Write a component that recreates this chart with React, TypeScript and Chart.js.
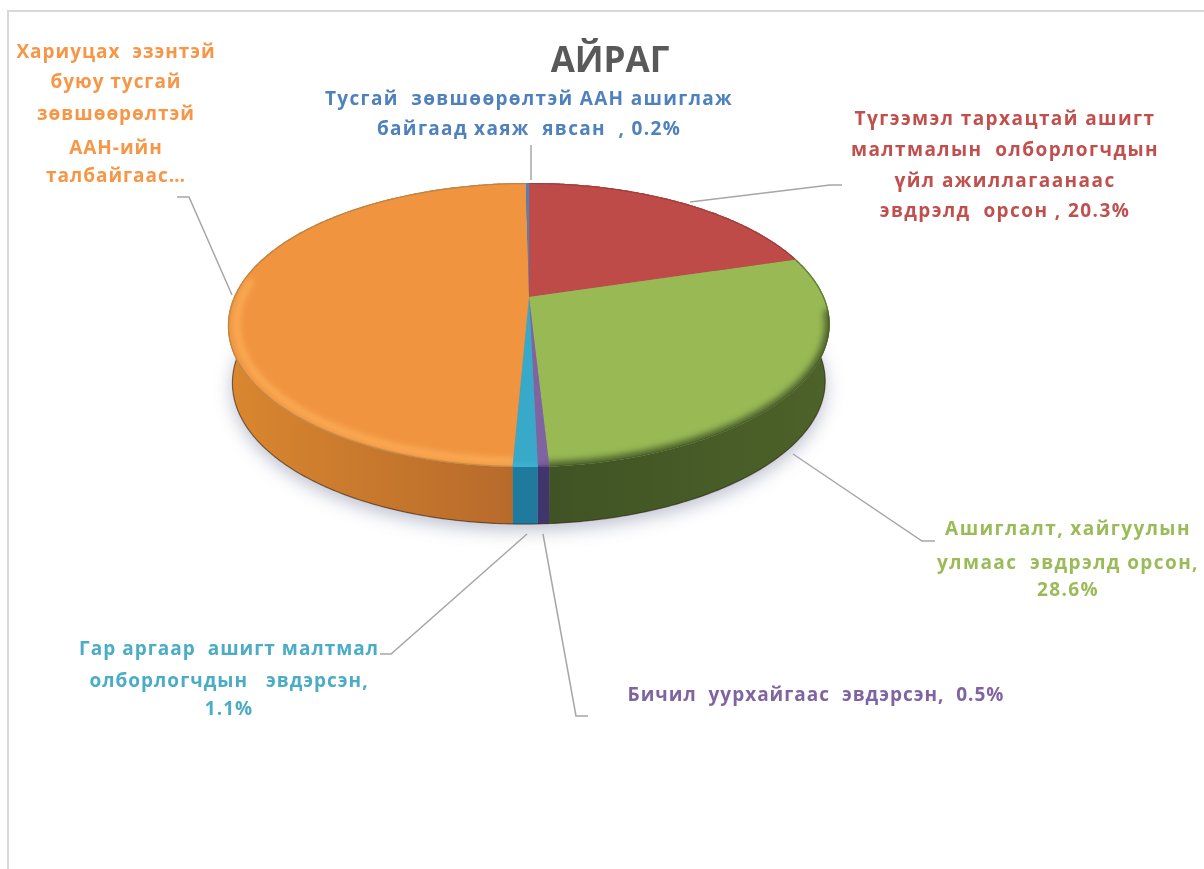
import React, { useEffect, useRef } from "react";
import { Chart, registerables } from "chart.js";

Chart.register(...registerables);

const titleText = "АЙРАГ";
const categories = [
  "Түгээмэл тархацтай ашигт малтмалын олборлогчдын үйл ажиллагаанаас эвдрэлд орсон",
  "Ашиглалт, хайгуулын улмаас эвдрэлд орсон",
  "Бичил уурхайгаас эвдэрсэн",
  "Гар аргаар ашигт малтмал олборлогчдын эвдэрсэн",
  "Хариуцах эзэнтэй буюу тусгай зөвшөөрөлтэй ААН-ийн талбайгаас…",
  "Тусгай зөвшөөрөлтэй ААН ашиглаж байгаад хаяж явсан",
];
const seriesValues = [20.3, 28.6, 0.5, 1.1, 49.3, 0.2];
const sliceColors = ["#BE4B48", "#98B954", "#8064A2", "#38A9C9", "#F19440", "#4F81BD"];
const labelColors = ["#C0504D", "#9BBB59", "#8064A2", "#4BACC6", "#F79646", "#4F81BD"];
const labelLines = [
  ["Түгээмэл тархацтай ашигт", "малтмалын  олборлогчдын", "үйл ажиллагаанаас", "эвдрэлд  орсон , 20.3%"],
  ["Ашиглалт, хайгуулын", "улмаас  эвдрэлд орсон,", "28.6%"],
  ["Бичил  уурхайгаас  эвдэрсэн,  0.5%"],
  ["Гар аргаар  ашигт малтмал", "олборлогчдын   эвдэрсэн,", "1.1%"],
  ["Хариуцах  эзэнтэй", "буюу тусгай", "зөвшөөрөлтэй", "ААН-ийн", "талбайгаас…"],
  ["Тусгай  зөвшөөрөлтэй ААН ашиглаж", "байгаад хаяж  явсан  , 0.2%"],
];

// layout of the text and leader lines
const labelCenterX = [1005, 1068, 816, 229, 116, 529];
const labelBaselines = [[125, 156, 187, 217], [535, 569, 596], [701], [655, 687, 715], [58, 88, 120, 154, 182], [105, 135]];
const labelFitWidth = [308, 262, 377, 300, 199, 408];
const leaders = [
  [[690, 202], [830, 185], [842, 185]],
  [[793, 454], [922, 541], [935, 541]],
  [[543, 534], [576, 716], [588, 716]],
  [[527, 534], [391, 654], [380, 654]],
  [[177, 197], [189, 197], [232, 295]],
  [[531, 145], [531, 180]],
];
const sideStops = [
  ["#8a3532", "#8a3532"],
  ["#3f5224", "#4c6229"],
  ["#41356e", "#41356e"],
  ["#1f7a9e", "#1f7a9e"],
  ["#d9862f", "#b5692b"],
  ["#3a5f8e", "#3a5f8e"],
];
const backEdgeColors = ["#a03f3c", "#5f7a35", "#5a4580", "#38A9C9", "#b98445", "#4F81BD"];
const frontRimColors = ["#93403c", "#46592a", "#5a4580", "#46c0dc", "#ffb65e", "#4F81BD"];

const TILT = 0.197;
const SQUASH = 0.463;
const DEPTH = 57;
const NARROW = 0.985;
const SHEAR = 5;
const FONT = '"Open Sans"';

const piePlugin = {
  id: "perspectivePie",
  beforeDraw(chart: any) {
    const c = chart.ctx;
    c.save();
    c.fillStyle = "#ffffff";
    c.fillRect(0, 0, chart.width, chart.height);
    c.strokeStyle = "#d9d9d9";
    c.lineWidth = 2;
    c.beginPath();
    c.moveTo(8, chart.height);
    c.lineTo(8, 11);
    c.lineTo(chart.width, 11);
    c.stroke();
    c.restore();
  },
  beforeDatasetsDraw(chart: any) {
    const c = chart.ctx;
    const arcs = chart.getDatasetMeta(0).data;
    const first = arcs[0];
    const R = first.outerRadius;
    const cx = first.x;
    const cy = first.y;
    const B = R * SQUASH;
    const pt = (a: number, r = 1, d = 0) => {
      const u = Math.cos(a) * r;
      const v = Math.sin(a) * r;
      const w = 1 - TILT * v;
      const n = 1 - (1 - NARROW) * (d / DEPTH);
      const s = v > 0 ? SHEAR * v * v : 0;
      return [cx + (R * u * n) / w - s, cy + (B * v) / w + d];
    };
    const arcPath = (s: number, e: number, r = 1, d = 0, cont = false) => {
      const n = Math.max(4, Math.ceil(Math.abs(e - s) / 0.01));
      for (let i = 0; i <= n; i++) {
        const p = pt(s + ((e - s) * i) / n, r, d);
        if (i === 0 && !cont) c.moveTo(p[0], p[1]);
        else c.lineTo(p[0], p[1]);
      }
    };
    const wedge = (a: any) => {
      c.beginPath();
      c.moveTo(cx, cy);
      arcPath(a.startAngle, a.endAngle, 1, 0, true);
      c.closePath();
    };

    // soft shadow under the disc
    c.save();
    c.shadowColor = "rgba(95,105,140,0.42)";
    c.shadowBlur = 18;
    c.shadowOffsetY = 6;
    c.fillStyle = "#888888";
    c.beginPath();
    arcPath(0, Math.PI * 2, 1, DEPTH);
    c.closePath();
    c.fill();
    c.restore();

    // side wall
    arcs.forEach((a: any, i: number) => {
      const g = c.createLinearGradient(cx - R, 0, cx, 0);
      g.addColorStop(0, sideStops[i][0]);
      g.addColorStop(1, sideStops[i][1]);
      const g2 = c.createLinearGradient(cx, 0, cx + R, 0);
      g2.addColorStop(0, sideStops[i][0]);
      g2.addColorStop(1, sideStops[i][1]);
      c.fillStyle = i === 1 ? g2 : g;
      c.beginPath();
      arcPath(a.startAngle, a.endAngle, 1, 0);
      arcPath(a.endAngle, a.startAngle, 1, DEPTH, true);
      c.closePath();
      c.fill();
    });

    // darker lower edge of the wall
    c.save();
    c.beginPath();
    arcPath(0, Math.PI, 1, DEPTH);
    c.strokeStyle = "rgba(50,30,10,0.55)";
    c.lineWidth = 1.2;
    c.stroke();
    c.restore();

    // top face
    arcs.forEach((a: any, i: number) => {
      wedge(a);
      c.fillStyle = sliceColors[i];
      c.fill();
    });

    // bevel on the top face: thin edge at the back, a soft band at the front
    const FRONT_FROM = 0.12;
    const FRONT_TO = Math.PI + 0.12;
    arcs.forEach((a: any, i: number) => {
      c.save();
      wedge(a);
      c.clip();

      c.strokeStyle = backEdgeColors[i];
      c.lineWidth = 2.4;
      c.beginPath();
      arcPath(a.startAngle, a.endAngle);
      c.stroke();

      const s = Math.max(a.startAngle, FRONT_FROM);
      const e = Math.min(a.endAngle, FRONT_TO);
      if (e > s) {
        c.filter = "blur(3px)";
        c.strokeStyle = frontRimColors[i];
        c.lineWidth = i === 1 ? 10 : i === 4 ? 6 : 4;
        c.globalAlpha = i === 4 ? 0.8 : 0.9;
        c.lineCap = "round";
        c.beginPath();
        arcPath(s, e, i === 4 ? 0.972 : 1);
        c.stroke();
      }
      c.restore();
    });

    return false;
  },
  afterDraw(chart: any) {
    const c = chart.ctx;
    c.save();
    c.textAlign = "center";
    c.textBaseline = "alphabetic";

    c.strokeStyle = "#a6a6a6";
    c.lineWidth = 1.5;
    leaders.forEach((pts) => {
      c.beginPath();
      pts.forEach((p, i) => (i ? c.lineTo(p[0], p[1]) : c.moveTo(p[0], p[1])));
      c.stroke();
    });

    c.filter = "blur(0.35px)";
    c.fillStyle = "#595959";
    c.font = `bold 35px ${FONT}`;
    c.letterSpacing = "0px";
    c.fillText(titleText, 610, 72);

    labelLines.forEach((lines, i) => {
      c.font = `bold 19px ${FONT}`;
      c.fillStyle = labelColors[i];
      c.letterSpacing = "0px";
      let widest = lines[0];
      lines.forEach((l) => {
        if (c.measureText(l).width > c.measureText(widest).width) widest = l;
      });
      const spacing = (labelFitWidth[i] - c.measureText(widest).width) / widest.length;
      c.letterSpacing = `${spacing.toFixed(2)}px`;
      lines.forEach((l, j) => c.fillText(l, labelCenterX[i], labelBaselines[i][j]));
    });
    c.restore();
  },
};

export default function App() {
  const ref = useRef<HTMLCanvasElement>(null);
  useEffect(() => {
    const chart = new Chart(ref.current as HTMLCanvasElement, {
      type: "pie",
      data: {
        labels: categories,
        datasets: [{ data: seriesValues, backgroundColor: sliceColors, borderWidth: 0 }],
      },
      options: {
        responsive: false,
        animation: false,
        layout: { padding: { left: 234, right: 380, top: 2, bottom: 277 } },
        plugins: { legend: { display: false }, tooltip: { enabled: false } },
      },
      plugins: [piePlugin],
    } as any);
    return () => chart.destroy();
  }, []);
  return (
    <div style={{ position: "absolute", left: 0, top: 0, width: 1204, height: 869 }}>
      <canvas ref={ref} width={1204} height={869} style={{ display: "block" }} />
    </div>
  );
}
